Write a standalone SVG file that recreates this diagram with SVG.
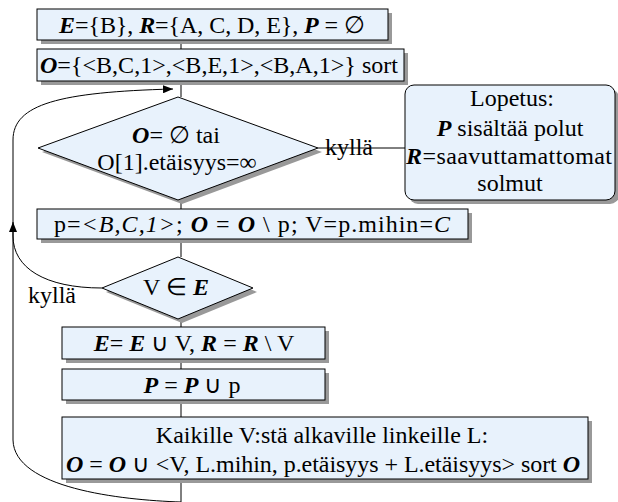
<svg xmlns="http://www.w3.org/2000/svg" width="618" height="502" viewBox="0 0 618 502">
<style>
.c{text-anchor:middle}
.b{font-weight:bold;font-style:italic}
.i{font-style:italic}
.box{fill:#e8f2fc;stroke:#000;stroke-width:1}
.sh{fill:#999;stroke:none}
.ln{fill:none;stroke:#000;stroke-width:1}
</style>
<defs>
<marker id="ah" viewBox="0 0 10 8" refX="10" refY="4" markerWidth="10" markerHeight="8" markerUnits="userSpaceOnUse" orient="auto">
<path d="M0,0 L10,4 L0,8 z" fill="#000"/>
</marker>
</defs>
<g id="connectors">
<path class="ln" d="M181,40 V49 M181,81 V97 M181,200 V209 M181,239 V257 M181,319 V327 M181,359 V369 M181,400 V417 M181,479 V502"/>
<path class="ln" d="M181,502 C120,500 14,488 13,440 V140 C13,104 60,92 173,89" marker-end="url(#ah)"/>
<path class="ln" d="M102,288 C45,288 13,268 13,236 V222" marker-end="url(#ah)"/>
<path class="ln" d="M318,148 H406"/>
<text x="325" y="155" font-family="Liberation Serif" font-size="24">kyllä</text>
<text x="28" y="303" font-family="Liberation Serif" font-size="24">kyllä</text>
</g>
<g id="n1">
<rect class="sh" x="41" y="13" width="351" height="31"/>
<rect class="box" x="37" y="9" width="351" height="31"/>
<text class="c" x="212" y="33" font-family="Liberation Serif" font-size="24" textLength="306" lengthAdjust="spacing"><tspan class="b">E</tspan>={B}, <tspan class="b">R</tspan>={A, C, D, E}, <tspan class="b">P</tspan> = ∅</text>
</g>
<g id="n2">
<rect class="sh" x="41" y="53" width="367" height="32"/>
<rect class="box" x="37" y="49" width="367" height="32"/>
<text class="c" x="219" y="73" font-family="Liberation Serif" font-size="24" textLength="358" lengthAdjust="spacing"><tspan class="b">O</tspan>={&lt;B,C,1&gt;,&lt;B,E,1&gt;,&lt;B,A,1&gt;} sort</text>
</g>
<g id="n3">
<polygon class="sh" points="182,101 322,152 182,204 42,152"/>
<polygon class="box" points="178,97 318,148 178,200 38,148"/>
<text class="c" x="176" y="143" font-family="Liberation Serif" font-size="24"><tspan class="b">O</tspan>= ∅ tai</text>
<text class="c" x="177" y="170" font-family="Liberation Serif" font-size="24">O[1].etäisyys=∞</text>
</g>
<g id="n4">
<rect class="sh" x="409" y="89" width="210" height="115" rx="9"/>
<rect class="box" x="405" y="85" width="210" height="115" rx="9"/>
<text class="c" x="512" y="106" font-family="Liberation Serif" font-size="24">Lopetus:</text>
<text class="c" x="510" y="136" font-family="Liberation Serif" font-size="24"><tspan class="b">P</tspan> sisältää polut</text>
<text class="c" x="509" y="164" font-family="Liberation Serif" font-size="24" textLength="206" lengthAdjust="spacing"><tspan class="b">R</tspan>=saavuttamattomat</text>
<text class="c" x="510" y="191" font-family="Liberation Serif" font-size="24">solmut</text>
</g>
<g id="n5">
<rect class="sh" x="41" y="213" width="431" height="30"/>
<rect class="box" x="37" y="209" width="431" height="30"/>
<text class="c" x="252" y="232" font-family="Liberation Serif" font-size="24" textLength="396" lengthAdjust="spacing">p=<tspan class="i">&lt;B,C,1&gt;</tspan>; <tspan class="b">O</tspan> = <tspan class="b">O</tspan> \ p; V=p.mihin=<tspan class="i">C</tspan></text>
</g>
<g id="n6">
<polygon class="sh" points="182,261 257,292 182,323 106,292"/>
<polygon class="box" points="178,257 253,288 178,319 102,288"/>
<text class="c" x="176" y="295" font-family="Liberation Serif" font-size="24">V ∈ <tspan class="b">E</tspan></text>
</g>
<g id="n7">
<rect class="sh" x="66" y="331" width="263" height="32"/>
<rect class="box" x="62" y="327" width="263" height="32"/>
<text class="c" x="194" y="351" font-family="Liberation Serif" font-size="24"><tspan class="b">E</tspan>= <tspan class="b">E</tspan> ∪ V, <tspan class="b">R</tspan> = <tspan class="b">R</tspan> \ V</text>
</g>
<g id="n8">
<rect class="sh" x="66" y="373" width="263" height="31"/>
<rect class="box" x="62" y="369" width="263" height="31"/>
<text class="c" x="192" y="393" font-family="Liberation Serif" font-size="24"><tspan class="b">P</tspan> = <tspan class="b">P</tspan> ∪ p</text>
</g>
<g id="n9">
<rect class="sh" x="66" y="421" width="526" height="62"/>
<rect class="box" x="62" y="417" width="526" height="62"/>
<text class="c" x="322" y="443" font-family="Liberation Serif" font-size="24">Kaikille V:stä alkaville linkeille L:</text>
<text class="c" x="323" y="472" font-family="Liberation Serif" font-size="24" textLength="514" lengthAdjust="spacing"><tspan class="b">O</tspan> = <tspan class="b">O</tspan> ∪ &lt;V, L.mihin, p.etäisyys + L.etäisyys&gt; sort <tspan class="b">O</tspan></text>
</g>
</svg>
